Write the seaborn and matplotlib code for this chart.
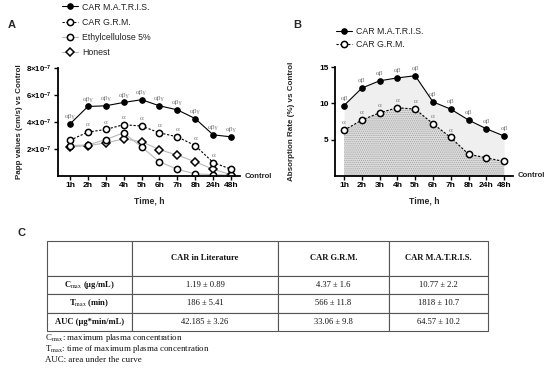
import numpy as np
import matplotlib
matplotlib.use("Agg")
import matplotlib.pyplot as plt
import seaborn as sns

# ---- data ----
times = ["1h", "2h", "3h", "4h", "5h", "6h", "7h", "8h", "24h", "48h"]

papp_matris = [3.85, 5.15, 5.2, 5.45, 5.65, 5.2, 4.9, 4.25, 3.05, 2.9]
papp_grm = [2.65, 3.25, 3.45, 3.8, 3.7, 3.2, 2.9, 2.25, 1.0, 0.5]
papp_ethyl = [2.25, 2.3, 2.7, 3.2, 2.15, 1.05, 0.5, 0.15, 0.1, 0.05]
papp_honest = [2.15, 2.25, 2.45, 2.75, 2.55, 1.95, 1.55, 1.05, 0.5, 0.1]

abs_matris = [9.7, 12.1, 13.1, 13.5, 13.8, 10.2, 9.2, 7.7, 6.5, 5.5]
abs_grm = [6.3, 7.7, 8.7, 9.4, 9.2, 7.2, 5.3, 3.0, 2.5, 2.0]

sig_a_matris = ["αβγ"] * 10
sig_a_grm = ["", "α", "α", "α", "α", "α", "α", "α", "α", ""]
sig_b_matris = ["αβ"] * 10
sig_b_grm = ["α", "α", "α", "α", "α", "α", "α", "", "", ""]

table_cols = ["", "CAR in Literature", "CAR G.R.M.", "CAR M.A.T.R.I.S."]
table_rows = [r"C$_{\mathrm{max}}$ (µg/mL)", r"T$_{\mathrm{max}}$ (min)", "AUC (µg*min/mL)"]
car_lit = ["1.19 ± 0.89", "186 ± 5.41", "42.185 ± 3.26"]
car_grm = ["4.37 ± 1.6", "566 ± 11.8", "33.06 ± 9.8"]
car_matris = ["10.77 ± 2.2", "1818 ± 10.7", "64.57 ± 10.2"]
footnotes = [r"C$_{\mathrm{max}}$: maximum plasma concentration",
             r"T$_{\mathrm{max}}$: time of maximum plasma concentration",
             "AUC: area under the curve"]

# ---- style ----
sns.set_style("ticks")
plt.rcParams["font.family"] = ["Liberation Sans", "DejaVu Sans"]
plt.rcParams["mathtext.fontset"] = "custom"
plt.rcParams["mathtext.rm"] = "Liberation Sans"
plt.rcParams["mathtext.bf"] = "Liberation Sans:bold"
plt.rcParams["hatch.linewidth"] = 0.5

W, H = 550, 368
fig = plt.figure(figsize=(5.5, 3.68), dpi=100)


def fx(x):
    return x / W


def fy(y):
    return 1 - y / H


x = np.arange(len(times))
SERIF = ["Liberation Serif", "DejaVu Serif"]


def style_axes(ax, xlim):
    for s in ["top", "right"]:
        ax.spines[s].set_visible(False)
    for s in ["left", "bottom"]:
        ax.spines[s].set_linewidth(1.3)
        ax.spines[s].set_color("black")
    ax.set_xlim(*xlim)
    ax.set_xticks(x)
    ax.set_xticklabels(times, fontsize=6, fontweight="bold")
    ax.tick_params(axis="both", direction="out", length=3, width=1.0, pad=1.5, colors="black")
    ax.set_xlabel("Time, h", fontsize=6.2, fontweight="bold", labelpad=5)


def annotate(ax, ys, labels):
    for xi, yi, lab in zip(x, ys, labels):
        if lab:
            ax.annotate(lab, (xi, yi), xytext=(0, 5.2), textcoords="offset points",
                        ha="center", va="center", fontsize=5.2, color="#7a7a7a",
                        family=SERIF)


# ---- panel A ----
axA = fig.add_axes([fx(58), fy(176), fx(182), 108 / H])
scale = 1e-7
sns.lineplot(x=x, y=np.array(papp_honest) * scale, ax=axA, color="#b8b8b8", lw=0.8,
             marker="D", markersize=3.6, markerfacecolor="white", markeredgecolor="black",
             markeredgewidth=1.1, label="Honest")
sns.lineplot(x=x, y=np.array(papp_ethyl) * scale, ax=axA, color="#b8b8b8", lw=0.8,
             marker="o", markersize=4.5, markerfacecolor="white", markeredgecolor="black",
             markeredgewidth=1.1, label="Ethylcellulose 5%")
sns.lineplot(x=x, y=np.array(papp_grm) * scale, ax=axA, color="black", lw=0.8,
             linestyle=(0, (2, 1.5)), marker="o", markersize=4.5, markerfacecolor="white",
             markeredgecolor="black", markeredgewidth=1.1, label="CAR G.R.M.")
sns.lineplot(x=x, y=np.array(papp_matris) * scale, ax=axA, color="black", lw=0.8,
             marker="o", markersize=4, markerfacecolor="black", markeredgecolor="black",
             label="CAR M.A.T.R.I.S.")
annotate(axA, np.array(papp_matris) * scale, sig_a_matris)
annotate(axA, np.array(papp_grm) * scale, sig_a_grm)
style_axes(axA, (-0.67, 9.5))
axA.set_ylim(0, 8e-7)
axA.set_yticks([2e-7, 4e-7, 6e-7, 8e-7])
axA.set_yticklabels([r"$\mathbf{%d{\times}10^{-7}}$" % v for v in [2, 4, 6, 8]], fontsize=5.6)
axA.set_ylabel("Papp values (cm/s) vs Control", fontsize=5.8, fontweight="bold")
axA.yaxis.set_label_coords(-0.19, 0.5)
h, l = axA.get_legend_handles_labels()
axA.legend(h[::-1], l[::-1], loc="upper left", bbox_to_anchor=(fx(62), fy(2.5)),
           bbox_transform=fig.transFigure, frameon=False, fontsize=6.3, borderpad=0,
           borderaxespad=0, labelspacing=0.72, handlelength=1.8, handletextpad=0.5,
           labelcolor="#222222")

# ---- panel B ----
axB = fig.add_axes([fx(335), fy(176), fx(178), 109 / H])
axB.fill_between(x, abs_matris, 0, color="#efefef", lw=0, zorder=0)
axB.fill_between(x, abs_grm, 0, facecolor="#dcdcdc", hatch="........", edgecolor="#a0a0a0",
                 lw=0, zorder=0.5)
sns.lineplot(x=x, y=abs_matris, ax=axB, color="black", lw=0.8, marker="o", markersize=4,
             markerfacecolor="black", markeredgecolor="black", label="CAR M.A.T.R.I.S.")
sns.lineplot(x=x, y=abs_grm, ax=axB, color="black", lw=0.8, linestyle=(0, (2, 1.5)),
             marker="o", markersize=4.5, markerfacecolor="white", markeredgecolor="black",
             markeredgewidth=1.1, label="CAR G.R.M.")
annotate(axB, abs_matris, sig_b_matris)
annotate(axB, abs_grm, sig_b_grm)
style_axes(axB, (-0.51, 9.5))
axB.set_ylim(0, 15)
axB.set_yticks([5, 10, 15])
axB.set_yticklabels(["5", "10", "15"], fontsize=6, fontweight="bold")
axB.set_ylabel("Absorption Rate (%) vs Control", fontsize=5.8, fontweight="bold")
axB.yaxis.set_label_coords(-0.225, 0.5)
axB.legend(loc="upper left", bbox_to_anchor=(fx(336), fy(27.5)), bbox_transform=fig.transFigure,
           frameon=False, fontsize=6.3, borderpad=0, borderaxespad=0, labelspacing=0.38,
           handlelength=1.8, handletextpad=0.5, labelcolor="#222222")

for xc, yc in [(245, 176), (518, 175)]:
    fig.text(fx(xc), fy(yc), "Control", fontsize=5.6, fontweight="bold", va="center", ha="left")

for lab, xc, yc in [("A", 8, 25), ("B", 293, 25), ("C", 18, 233)]:
    fig.text(fx(xc), fy(yc), lab, fontsize=8, fontweight="bold", va="center", ha="left")

# ---- panel C table ----
axT = fig.add_axes([fx(47), fy(331), fx(441), 90 / H])
axT.axis("off")
cell_text = [[r, a, b, c] for r, a, b, c in zip(table_rows, car_lit, car_grm, car_matris)]
tbl = axT.table(cellText=cell_text, colLabels=table_cols, colWidths=[85, 146, 111, 99],
                cellLoc="center", bbox=[0, 0, 1, 1])
tbl.auto_set_font_size(False)
for (r, c), cell in tbl.get_celld().items():
    cell.set_height(35 if r == 0 else 18.5)
    cell.set_edgecolor("#555555")
    cell.set_linewidth(0.8)
    t = cell.get_text()
    t.set_fontsize(6.1)
    t.set_family(SERIF)
    t.set_math_fontfamily("stix")
    t.set_color("#111111")
    if r == 0 or c == 0:
        t.set_fontweight("bold")

for i, note in enumerate(footnotes):
    fig.text(fx(45), fy(338 + 11 * i), note, fontsize=6.4, family=SERIF, math_fontfamily="stix",
             va="center", ha="left", color="#111111")

fig.savefig("out.png", dpi=100)
